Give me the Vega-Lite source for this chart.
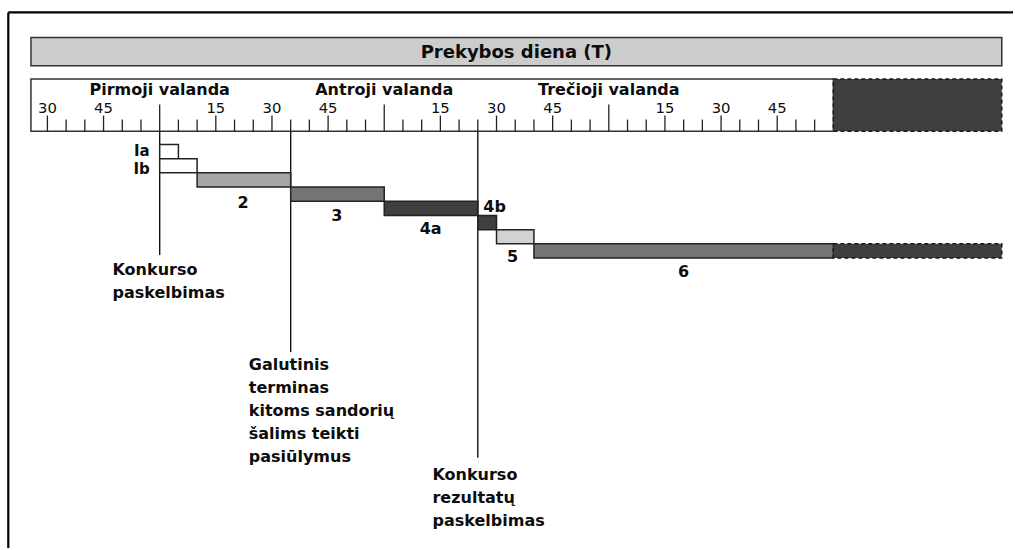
{
  "$schema": "https://vega.github.io/schema/vega-lite/v6.json",
  "width": 1015,
  "height": 550,
  "autosize": {"type": "fit", "contains": "padding"},
  "padding": 0,
  "background": "white",
  "config": {
    "view": {"stroke": null},
    "font": "DejaVu Sans"
  },
  "resolve": {"scale": {"fill": "independent"}},
  "datasets": {
    "frame": [
      {"edge": "top", "x0": -40.45, "x1": 228, "y0": -9.3, "y1": -9.3},
      {"edge": "left", "x0": -40.45, "x1": -40.45, "y0": -9.3, "y1": 28.42}
    ],
    "panels": [
      {"panel": "Prekybos diena", "from": -34.4, "to": 225, "top": -7.53, "bottom": -5.544},
      {"panel": "valandos", "from": -34.4, "to": 180, "top": -4.611, "bottom": -0.933},
      {"panel": "po prekybos", "from": 180, "to": 225, "top": -4.611, "bottom": -0.933}
    ],
    "heading": [{"text": "Prekybos diena (T)", "at": 95.3}],
    "hours": [
      {"label": "Pirmoji valanda", "at": 0},
      {"label": "Antroji valanda", "at": 60},
      {"label": "Trečioji valanda", "at": 120}
    ],
    "ticks": [
      {"t": -30, "kind": "quarter", "minute": "30"},
      {"t": -25, "kind": "minor"},
      {"t": -20, "kind": "minor"},
      {"t": -15, "kind": "quarter", "minute": "45"},
      {"t": -10, "kind": "minor"},
      {"t": -5, "kind": "minor"},
      {"t": 0, "kind": "hour"},
      {"t": 5, "kind": "minor"},
      {"t": 10, "kind": "minor"},
      {"t": 15, "kind": "quarter", "minute": "15"},
      {"t": 20, "kind": "minor"},
      {"t": 25, "kind": "minor"},
      {"t": 30, "kind": "quarter", "minute": "30"},
      {"t": 35, "kind": "minor"},
      {"t": 40, "kind": "minor"},
      {"t": 45, "kind": "quarter", "minute": "45"},
      {"t": 50, "kind": "minor"},
      {"t": 55, "kind": "minor"},
      {"t": 60, "kind": "hour"},
      {"t": 65, "kind": "minor"},
      {"t": 70, "kind": "minor"},
      {"t": 75, "kind": "quarter", "minute": "15"},
      {"t": 80, "kind": "minor"},
      {"t": 85, "kind": "minor"},
      {"t": 90, "kind": "quarter", "minute": "30"},
      {"t": 95, "kind": "minor"},
      {"t": 100, "kind": "minor"},
      {"t": 105, "kind": "quarter", "minute": "45"},
      {"t": 110, "kind": "minor"},
      {"t": 115, "kind": "minor"},
      {"t": 120, "kind": "hour"},
      {"t": 125, "kind": "minor"},
      {"t": 130, "kind": "minor"},
      {"t": 135, "kind": "quarter", "minute": "15"},
      {"t": 140, "kind": "minor"},
      {"t": 145, "kind": "minor"},
      {"t": 150, "kind": "quarter", "minute": "30"},
      {"t": 155, "kind": "minor"},
      {"t": 160, "kind": "minor"},
      {"t": 165, "kind": "quarter", "minute": "45"},
      {"t": 170, "kind": "minor"},
      {"t": 175, "kind": "minor"}
    ],
    "phases": [
      {"step": "Ia", "start": 0, "end": 5, "top": 0, "bottom": 1, "state": "solid"},
      {"step": "Ib", "start": 0, "end": 10, "top": 1, "bottom": 2, "state": "solid"},
      {"step": "2", "start": 10, "end": 35, "top": 2, "bottom": 3, "state": "solid"},
      {"step": "3", "start": 35, "end": 60, "top": 3, "bottom": 4, "state": "solid"},
      {"step": "4a", "start": 60, "end": 85, "top": 4, "bottom": 5, "state": "solid"},
      {"step": "4b", "start": 85, "end": 90, "top": 5, "bottom": 6, "state": "solid"},
      {"step": "5", "start": 90, "end": 100, "top": 6, "bottom": 7, "state": "solid"},
      {"step": "6", "start": 100, "end": 180, "top": 7, "bottom": 8, "state": "solid"},
      {"step": "6+", "start": 180, "end": 225, "top": 7, "bottom": 8, "state": "continued"}
    ],
    "phase_labels": [
      {"text": "Ia", "at": -2.667, "row": 0.82, "side": "left"},
      {"text": "Ib", "at": -2.667, "row": 2.08, "side": "left"},
      {"text": "2", "at": 22.3, "row": 4.44, "side": "center"},
      {"text": "3", "at": 47.3, "row": 5.38, "side": "center"},
      {"text": "4a", "at": 72.4, "row": 6.32, "side": "center"},
      {"text": "4b", "at": 89.5, "row": 4.75, "side": "center"},
      {"text": "5", "at": 94.3, "row": 8.3, "side": "center"},
      {"text": "6", "at": 140, "row": 9.33, "side": "center"}
    ],
    "events": [
      {"event": "Konkurso paskelbimas", "t": 0, "from": -0.933, "end": 7.79, "note": "Konkurso\npaskelbimas", "note_at": -12.61, "note_row": 9.17},
      {"event": "Galutinis terminas", "t": 35, "from": -0.933, "end": 14.62, "note": "Galutinis\nterminas\nkitoms sandorių\nšalims teikti\npasiūlymus", "note_at": 23.81, "note_row": 15.91},
      {"event": "Konkurso rezultatų paskelbimas", "t": 85, "from": -0.933, "end": 22.06, "note": "Konkurso\nrezultatų\npaskelbimas", "note_at": 72.88, "note_row": 23.63}
    ]
  },
  "layer": [
    {
      "data": {"name": "frame"},
      "mark": {"type": "rule", "color": "#000000", "strokeWidth": 2.2},
      "encoding": {
        "x": {"field": "x0", "type": "quantitative", "axis": null, "scale": {"domain": [-42.6667, 228], "nice": false, "zero": false}},
        "x2": {"field": "x1"},
        "y": {"field": "y0", "type": "quantitative", "axis": null, "scale": {"domain": [-10.17544, 28.42105], "nice": false, "zero": false, "reverse": true}},
        "y2": {"field": "y1"}
      }
    },
    {
      "data": {"name": "panels"},
      "transform": [{"filter": "datum.panel !== 'po prekybos'"}],
      "mark": {"type": "rect", "stroke": "#333333", "strokeWidth": 1.5},
      "encoding": {
        "x": {"field": "from", "type": "quantitative", "axis": null, "scale": {"domain": [-42.6667, 228], "nice": false, "zero": false}},
        "x2": {"field": "to"},
        "y": {"field": "top", "type": "quantitative", "axis": null, "scale": {"domain": [-10.17544, 28.42105], "nice": false, "zero": false, "reverse": true}},
        "y2": {"field": "bottom"},
        "fill": {"field": "panel", "type": "nominal", "legend": null, "scale": {"domain": ["Prekybos diena", "valandos"], "range": ["#cccccc", "#ffffff"]}}
      }
    },
    {
      "data": {"name": "panels"},
      "transform": [{"filter": "datum.panel === 'po prekybos'"}],
      "mark": {"type": "rect", "fill": "#3f3f3f", "stroke": "#1a1a1a", "strokeWidth": 1.5, "strokeDash": [4, 3]},
      "encoding": {
        "x": {"field": "from", "type": "quantitative", "axis": null, "scale": {"domain": [-42.6667, 228], "nice": false, "zero": false}},
        "x2": {"field": "to"},
        "y": {"field": "top", "type": "quantitative", "axis": null, "scale": {"domain": [-10.17544, 28.42105], "nice": false, "zero": false, "reverse": true}},
        "y2": {"field": "bottom"}
      }
    },
    {
      "data": {"name": "heading"},
      "mark": {"type": "text", "font": "DejaVu Sans", "fontSize": 18, "fontWeight": "bold", "color": "#0d0d0d", "align": "center", "baseline": "alphabetic"},
      "encoding": {
        "x": {"field": "at", "type": "quantitative", "axis": null, "scale": {"domain": [-42.6667, 228], "nice": false, "zero": false}},
        "y": {"datum": -6.056, "type": "quantitative", "axis": null, "scale": {"domain": [-10.17544, 28.42105], "nice": false, "zero": false, "reverse": true}},
        "text": {"field": "text"}
      }
    },
    {
      "data": {"name": "hours"},
      "mark": {"type": "text", "font": "DejaVu Sans", "fontSize": 16, "fontWeight": "bold", "color": "#0d0d0d", "align": "center", "baseline": "alphabetic"},
      "encoding": {
        "x": {"field": "at", "type": "quantitative", "axis": null, "scale": {"domain": [-42.6667, 228], "nice": false, "zero": false}},
        "y": {"datum": -3.453, "type": "quantitative", "axis": null, "scale": {"domain": [-10.17544, 28.42105], "nice": false, "zero": false, "reverse": true}},
        "text": {"field": "label"}
      }
    },
    {
      "data": {"name": "ticks"},
      "transform": [{"filter": "datum.kind === 'quarter'"}],
      "mark": {"type": "text", "font": "DejaVu Sans", "fontSize": 14.8, "color": "#0d0d0d", "align": "center", "baseline": "alphabetic"},
      "encoding": {
        "x": {"field": "t", "type": "quantitative", "axis": null, "scale": {"domain": [-42.6667, 228], "nice": false, "zero": false}},
        "y": {"datum": -2.218, "type": "quantitative", "axis": null, "scale": {"domain": [-10.17544, 28.42105], "nice": false, "zero": false, "reverse": true}},
        "text": {"field": "minute"}
      }
    },
    {
      "data": {"name": "ticks"},
      "transform": [{"filter": "datum.kind === 'minor'"}],
      "mark": {"type": "tick", "orient": "vertical", "color": "#222222", "opacity": 1, "size": 11.7, "thickness": 1.3},
      "encoding": {
        "x": {"field": "t", "type": "quantitative", "axis": null, "scale": {"domain": [-42.6667, 228], "nice": false, "zero": false}},
        "y": {"datum": -1.344, "type": "quantitative", "axis": null, "scale": {"domain": [-10.17544, 28.42105], "nice": false, "zero": false, "reverse": true}}
      }
    },
    {
      "data": {"name": "ticks"},
      "transform": [{"filter": "datum.kind === 'quarter'"}],
      "mark": {"type": "tick", "orient": "vertical", "color": "#222222", "opacity": 1, "size": 15.7, "thickness": 1.3},
      "encoding": {
        "x": {"field": "t", "type": "quantitative", "axis": null, "scale": {"domain": [-42.6667, 228], "nice": false, "zero": false}},
        "y": {"datum": -1.484, "type": "quantitative", "axis": null, "scale": {"domain": [-10.17544, 28.42105], "nice": false, "zero": false, "reverse": true}}
      }
    },
    {
      "data": {"name": "ticks"},
      "transform": [{"filter": "datum.kind === 'hour'"}],
      "mark": {"type": "tick", "orient": "vertical", "color": "#222222", "opacity": 1, "size": 26.7, "thickness": 1.3},
      "encoding": {
        "x": {"field": "t", "type": "quantitative", "axis": null, "scale": {"domain": [-42.6667, 228], "nice": false, "zero": false}},
        "y": {"datum": -1.87, "type": "quantitative", "axis": null, "scale": {"domain": [-10.17544, 28.42105], "nice": false, "zero": false, "reverse": true}}
      }
    },
    {
      "data": {"name": "events"},
      "mark": {"type": "rule", "color": "#111111", "strokeWidth": 1.4},
      "encoding": {
        "x": {"field": "t", "type": "quantitative", "axis": null, "scale": {"domain": [-42.6667, 228], "nice": false, "zero": false}},
        "y": {"field": "from", "type": "quantitative", "axis": null, "scale": {"domain": [-10.17544, 28.42105], "nice": false, "zero": false, "reverse": true}},
        "y2": {"field": "end"}
      }
    },
    {
      "data": {"name": "phases"},
      "transform": [{"filter": "datum.state === 'solid'"}],
      "mark": {"type": "rect", "stroke": "#222222", "strokeWidth": 1.5},
      "encoding": {
        "x": {"field": "start", "type": "quantitative", "axis": null, "scale": {"domain": [-42.6667, 228], "nice": false, "zero": false}},
        "x2": {"field": "end"},
        "y": {"field": "top", "type": "quantitative", "axis": null, "scale": {"domain": [-10.17544, 28.42105], "nice": false, "zero": false, "reverse": true}},
        "y2": {"field": "bottom"},
        "fill": {"field": "step", "type": "nominal", "legend": null, "scale": {"domain": ["Ia", "Ib", "2", "3", "4a", "4b", "5", "6"], "range": ["#ffffff", "#ffffff", "#a6a6a6", "#747474", "#3f3f3f", "#3f3f3f", "#d2d2d2", "#747474"]}}
      }
    },
    {
      "data": {"name": "phases"},
      "transform": [{"filter": "datum.state === 'continued'"}],
      "mark": {"type": "rect", "fill": "#3f3f3f", "stroke": "#1a1a1a", "strokeWidth": 1.5, "strokeDash": [4, 3]},
      "encoding": {
        "x": {"field": "start", "type": "quantitative", "axis": null, "scale": {"domain": [-42.6667, 228], "nice": false, "zero": false}},
        "x2": {"field": "end"},
        "y": {"field": "top", "type": "quantitative", "axis": null, "scale": {"domain": [-10.17544, 28.42105], "nice": false, "zero": false, "reverse": true}},
        "y2": {"field": "bottom"}
      }
    },
    {
      "data": {"name": "phase_labels"},
      "transform": [{"filter": "datum.side === 'left'"}],
      "mark": {"type": "text", "font": "DejaVu Sans", "fontSize": 15, "fontWeight": "bold", "color": "#0d0d0d", "align": "right", "baseline": "alphabetic"},
      "encoding": {
        "x": {"field": "at", "type": "quantitative", "axis": null, "scale": {"domain": [-42.6667, 228], "nice": false, "zero": false}},
        "y": {"field": "row", "type": "quantitative", "axis": null, "scale": {"domain": [-10.17544, 28.42105], "nice": false, "zero": false, "reverse": true}},
        "text": {"field": "text"}
      }
    },
    {
      "data": {"name": "phase_labels"},
      "transform": [{"filter": "datum.side === 'center'"}],
      "mark": {"type": "text", "font": "DejaVu Sans", "fontSize": 16, "fontWeight": "bold", "color": "#0d0d0d", "align": "center", "baseline": "alphabetic"},
      "encoding": {
        "x": {"field": "at", "type": "quantitative", "axis": null, "scale": {"domain": [-42.6667, 228], "nice": false, "zero": false}},
        "y": {"field": "row", "type": "quantitative", "axis": null, "scale": {"domain": [-10.17544, 28.42105], "nice": false, "zero": false, "reverse": true}},
        "text": {"field": "text"}
      }
    },
    {
      "data": {"name": "events"},
      "mark": {"type": "text", "font": "DejaVu Sans", "fontSize": 16, "fontWeight": "bold", "color": "#0d0d0d", "align": "left", "baseline": "alphabetic", "lineBreak": "\n", "lineHeight": 23},
      "encoding": {
        "x": {"field": "note_at", "type": "quantitative", "axis": null, "scale": {"domain": [-42.6667, 228], "nice": false, "zero": false}},
        "y": {"field": "note_row", "type": "quantitative", "axis": null, "scale": {"domain": [-10.17544, 28.42105], "nice": false, "zero": false, "reverse": true}},
        "text": {"field": "note"}
      }
    }
  ]
}
